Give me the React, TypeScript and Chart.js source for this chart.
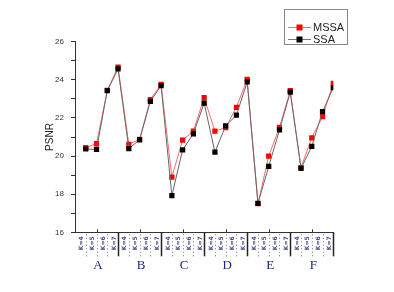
import React, { useEffect, useRef } from "react";
import { Chart, registerables } from "chart.js";

Chart.register(...registerables);

const groups = ["A", "B", "C", "D", "E", "F"];
const subLabels = ["K=4", "K=5", "K=6", "K=7"];
const mssa = [
  20.44, 20.65, 23.45, 24.67,
  20.62, 20.88, 22.96, 23.76,
  18.9, 20.84, 21.31, 23.06,
  21.31, 21.49, 22.56, 24.03,
  17.5, 20.0, 21.51, 23.43,
  19.4, 20.96, 22.07, 23.82,
];
const ssa = [
  20.37, 20.35, 23.43, 24.57,
  20.39, 20.85, 22.87, 23.69,
  17.92, 20.33, 21.17, 22.78,
  20.21, 21.58, 22.15, 23.89,
  17.52, 19.46, 21.37, 23.35,
  19.35, 20.51, 22.33, 23.59,
];
const yTicksMin = 16;
const yTicksMax = 26;

const bottomPlugin = {
  id: "bottomLabels",
  afterDraw(chart: any) {
    const ctx = chart.ctx;
    const xs = chart.scales.x;
    const base = chart.chartArea.bottom;
    ctx.save();
    for (let i = 0; i < mssa.length; i++) {
      const px = Math.round(xs.getPixelForValue(i)) + 0.5;
      if (i % 4 === 3) {
        ctx.strokeStyle = "#222";
        ctx.lineWidth = 1.5;
        ctx.setLineDash([]);
        ctx.beginPath();
        ctx.moveTo(px, base);
        ctx.lineTo(px, base + 24);
        ctx.stroke();
      } else {
        ctx.strokeStyle = "#777";
        ctx.lineWidth = 1;
        ctx.setLineDash([1, 2.5]);
        ctx.beginPath();
        ctx.moveTo(px, base + 2);
        ctx.lineTo(px, base + 24);
        ctx.stroke();
      }
      if (i % 4 === 1) {
        ctx.setLineDash([]);
        ctx.strokeStyle = "#333";
        ctx.lineWidth = 1;
        ctx.beginPath();
        ctx.moveTo(px, base);
        ctx.lineTo(px, base - 3);
        ctx.stroke();
      }
    }
    ctx.setLineDash([]);
    ctx.font = "bold 6px 'DejaVu Sans', sans-serif";
    ctx.textAlign = "center";
    ctx.textBaseline = "middle";
    for (let i = 0; i < mssa.length; i++) {
      const px = xs.getPixelForValue(i - 0.5) + 1.5;
      ctx.save();
      ctx.translate(px, base + 11);
      ctx.rotate(-Math.PI / 2);
      ctx.fillStyle = "#4a4a8a";
      ctx.fillText(subLabels[i % 4], 0, 0);
      ctx.restore();
    }
    ctx.font = "13px 'Liberation Serif', 'Times New Roman', serif";
    ctx.fillStyle = "#1c2680";
    groups.forEach((g, k) => {
      const px = xs.getPixelForValue(4 * k + 1);
      ctx.fillText(g, px + 1.5, base + 33);
    });
    const lx = 284.5, ly = 9.5, lw = 63, lh = 35;
    ctx.strokeStyle = "#888";
    ctx.lineWidth = 1;
    ctx.fillStyle = "#fff";
    ctx.fillRect(lx, ly, lw, lh);
    ctx.strokeRect(lx, ly, lw, lh);
    const rows = [
      { label: "MSSA", line: "#ff6a6a", pt: "#ff0000", y: 27 },
      { label: "SSA", line: "#777", pt: "#000", y: 39 },
    ];
    rows.forEach((r) => {
      ctx.strokeStyle = r.line;
      ctx.beginPath();
      ctx.moveTo(288, r.y + 0.5);
      ctx.lineTo(311, r.y + 0.5);
      ctx.stroke();
      ctx.fillStyle = r.pt;
      ctx.fillRect(296.5, r.y - 2.5, 6, 6);
      ctx.fillStyle = "#222";
      ctx.font = "11px 'Liberation Sans', Arial, sans-serif";
      ctx.textAlign = "left";
      ctx.fillText(r.label, 313, r.y + 1);
    });
    ctx.restore();
  },
};

export default function App() {
  const ref = useRef<HTMLCanvasElement | null>(null);
  useEffect(() => {
    document.body.style.margin = "0";
    const canvas = ref.current;
    if (!canvas) return;
    const chart = new Chart(canvas, {
      type: "line",
      data: {
        datasets: [
          {
            label: "SSA",
            data: ssa.map((v, i) => ({ x: i, y: v })),
            borderColor: "#666",
            borderWidth: 1,
            backgroundColor: "#000",
            pointStyle: "rect",
            pointRadius: 3.7,
            pointBorderWidth: 0,
            order: 0,
          },
          {
            label: "MSSA",
            data: mssa.map((v, i) => ({ x: i, y: v })),
            borderColor: "#ff6a6a",
            borderWidth: 1,
            backgroundColor: "#ff0000",
            pointStyle: "rect",
            pointRadius: 3.7,
            pointBorderWidth: 0,
            order: 1,
          },
        ],
      },
      options: {
        animation: false,
        responsive: false,
        devicePixelRatio: 1,
        layout: { padding: { left: 0, right: 60.7, top: 41.7, bottom: 0 } },
        plugins: { legend: { display: false }, tooltip: { enabled: false } },
        scales: {
          x: {
            type: "linear",
            min: -1,
            max: 23,
            ticks: { display: false },
            grid: { display: false },
            border: { display: true, color: "#333", width: 1 },
            afterFit: (s: any) => {
              s.height = 59.7;
              s.paddingTop = 0;
              s.paddingBottom = 0;
              s.paddingLeft = 0;
              s.paddingRight = 0;
            },
          },
          y: {
            min: yTicksMin,
            max: yTicksMax,
            ticks: {
              stepSize: 1,
              padding: 7,
              color: "#333",
              font: { size: 8, family: "'Liberation Sans', Arial, sans-serif" },
              callback: (v: any) => (Number(v) % 2 === 0 ? String(v) : ""),
            },
            grid: { drawOnChartArea: false, drawTicks: true, tickLength: 4, color: "#333" },
            border: { display: true, color: "#333", width: 1 },
            title: {
              display: true,
              text: "PSNR",
              color: "#222",
              padding: { top: 44, bottom: 0 },
              font: { size: 10, family: "'Liberation Sans', Arial, sans-serif" },
            },
            afterFit: (s: any) => {
              s.width = 75;
              s.paddingTop = 0;
              s.paddingBottom = 0;
              s.paddingLeft = 0;
              s.paddingRight = 0;
            },
          },
        },
      },
      plugins: [bottomPlugin],
    });
    return () => chart.destroy();
  }, []);
  return (
    <div style={{ position: "absolute", left: 0, top: 0, width: 394, height: 292, background: "#fff" }}>
      <canvas ref={ref} width={394} height={292} />
    </div>
  );
}
